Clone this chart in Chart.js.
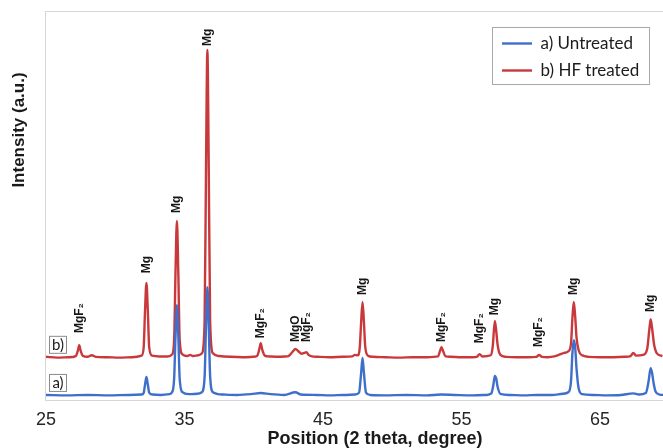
<!DOCTYPE html>
<html>
<head>
<meta charset="utf-8">
<script src="https://cdn.jsdelivr.net/npm/chart.js@4.4.1/dist/chart.umd.min.js"></script>
<style>
  html, body { margin: 0; padding: 0; background: #ffffff; overflow: hidden; width: 663px; height: 448px; }
  #wrap { width: 720px; height: 448px; }
</style>
</head>
<body>
<div id="wrap"><canvas id="c" width="720" height="448"></canvas></div>
<script>
// ---------- DATA ----------
const seriesNames = ['a) Untreated', 'b) HF treated'];
const seriesTags = ['a)', 'b)'];
const xTicks = [25, 35, 45, 55, 65];

// a) Untreated : 2-theta positions and intensities (a.u.)
const untreatedX = [25.0, 26.5, 28.0, 29.5, 31.0, 31.9,
  32.05, 32.15, 32.25, 32.35, 32.45, 32.7, 33.3, 33.9,
  34.1, 34.25, 34.35, 34.45, 34.55, 34.65, 34.85, 35.3, 35.9, 36.25,
  36.45, 36.55, 36.65, 36.75, 36.85, 37.05, 37.8, 38.8, 39.8, 40.5, 41.2, 42.2, 43.0, 43.4,
  44.5, 45.5, 46.5, 47.3, 47.6, 47.75, 47.85, 47.95, 48.1, 48.4,
  49.5, 51.0, 52.5, 53.5, 54.5, 55.8, 56.8,
  57.15, 57.3, 57.4, 57.5, 57.6, 57.8, 58.5, 59.5, 60.5, 61.5, 62.3, 62.7,
  62.9, 63.0, 63.1, 63.2, 63.3, 63.45, 63.7, 64.5, 65.5, 66.5, 67.4, 67.8, 68.3,
  68.5, 68.65, 68.75, 68.85, 69.0, 69.3, 69.6];
const untreatedY = [13, 12, 13, 12, 13, 14,
  18, 40, 59, 40, 19, 14, 13, 15,
  20, 55, 165, 244, 165, 55, 20, 15, 16, 20,
  60, 190, 290, 190, 60, 20, 14, 13, 15, 18, 15, 13, 20, 14,
  13, 12, 13, 14, 19, 70, 108, 70, 19, 13,
  12, 13, 12, 14, 13, 12, 13,
  17, 40, 62, 55, 34, 16, 13, 12, 13, 13, 16, 20,
  48, 120, 154, 135, 80, 30, 15, 13, 12, 13, 17, 14, 18,
  48, 82, 70, 46, 22, 14, 13];

// b) HF treated : 2-theta positions and intensities (a.u., plotted offset above a)
const hfX = [25.0, 25.8, 26.6, 27.15, 27.3, 27.4, 27.5, 27.65, 28.0, 28.3, 28.6, 29.4, 30.3, 31.2,
  31.9, 32.05, 32.15, 32.25, 32.35, 32.45, 32.65, 33.2, 33.8,
  34.1, 34.25, 34.35, 34.45, 34.55, 34.65, 34.85, 35.2, 35.4, 35.6, 36.0,
  36.25, 36.45, 36.55, 36.65, 36.75, 36.85, 37.05, 37.5, 38.3, 39.2, 39.9,
  40.25, 40.4, 40.5, 40.6, 40.8, 41.1, 41.8, 42.3,
  42.5, 42.8, 43.0, 43.2, 43.45, 43.65, 43.8, 43.95, 44.2, 44.6, 45.5, 46.4, 47.1, 47.3,
  47.5, 47.65, 47.75, 47.85, 47.95, 48.05, 48.25, 48.6, 49.5, 50.5, 51.5, 52.5,
  53.3, 53.45, 53.55, 53.65, 53.85, 54.2, 55.0, 55.8, 56.1, 56.3, 56.5,
  57.1, 57.25, 57.4, 57.5, 57.6, 57.8, 58.2, 59.0, 59.8, 60.4, 60.6, 60.8, 61.2,
  61.7, 62.1, 62.4, 62.7, 62.9, 63.0, 63.1, 63.2, 63.3, 63.45, 63.7, 64.2, 65.0, 66.0, 66.8,
  67.2, 67.4, 67.6, 68.1, 68.4, 68.55, 68.65, 68.75, 68.9, 69.1, 69.5];
const hfY = [111, 109, 110, 113, 127, 141, 127, 114, 111, 115, 111, 110, 109, 110,
  114, 135, 230, 301, 230, 135, 114, 112, 112,
  117, 155, 330, 460, 330, 155, 117, 113, 116, 113, 115,
  120, 200, 590, 900, 590, 200, 120, 113, 111, 110, 111,
  114, 131, 146, 131, 114, 112, 111, 112,
  113, 124, 131, 126, 119, 121, 123, 116, 112, 111, 110, 111, 112, 116,
  115, 135, 200, 252, 200, 135, 114, 111, 110, 109, 110, 110,
  112, 127, 136, 127, 112, 111, 110, 110, 111, 118, 112,
  115, 138, 203, 178, 142, 116, 111, 110, 110, 111, 116, 111, 110,
  112, 117, 121, 125, 145, 210, 252, 215, 160, 128, 115, 111, 110, 110, 111,
  113, 121, 114, 116, 132, 180, 208, 185, 142, 120, 113];

// Phase labels above the peaks: 2-theta, text, intensity at the label foot
const peakX = [27.4, 32.25, 34.45, 36.65, 40.5, 43.0, 43.8, 47.85, 53.55, 56.3, 57.4, 60.6, 63.1, 68.65];
const peakLabel = ['MgF₂', 'Mg', 'Mg', 'Mg', 'MgF₂', 'MgO', 'MgF₂', 'Mg', 'MgF₂', 'MgF₂', 'Mg', 'MgF₂', 'Mg', 'Mg'];
const peakLabelY = [172, 326, 481, 910, 159, 149, 149, 270, 149, 146, 218, 136, 270, 226];

const xTitle = 'Position (2 theta, degree)';
const yTitle = 'Intensity (a.u.)';

// ---------- STYLE ----------
const BLUE = '#3e6fca';
const RED = '#c9393b';
const NARROW = '"Liberation Sans Narrow", "Arial Narrow", "Liberation Sans", Arial, sans-serif';
const SANS = '"Liberation Sans", Arial, sans-serif';
const LEG = 'Lato, "Open Sans", sans-serif';

const decor = {
  id: 'decor',
  beforeLayout(chart) {
    const lg = chart.legend;
    if (lg && !lg.__patched) {
      const f = lg.fit;
      lg.fit = function () { f.call(this); this.width = 0; };
      lg.__patched = true;
    }
  },
  beforeDraw(chart) {
    const lg = chart.legend;
    if (lg) { lg.left = 492; lg.right = 650; lg.top = 25; lg.bottom = 240; }
  },
  beforeDatasetsDraw(chart) {
    const { ctx, chartArea: a } = chart;
    ctx.save();
    ctx.strokeStyle = '#d6d6d6';
    ctx.lineWidth = 1;
    ctx.strokeRect(Math.round(a.left) - 0.5, Math.round(a.top) + 0.5, a.right - a.left, a.bottom - a.top);
    // legend frame
    ctx.strokeStyle = '#a8a8a8';
    ctx.strokeRect(492.5, 27.5, 157, 57);
    ctx.restore();
  },
  afterDatasetsDraw(chart) {
    const { ctx, chartArea: a, scales } = chart;
    const xs = scales.x, ys = scales.y;
    ctx.save();
    // peak labels
    ctx.fillStyle = '#161616';
    ctx.font = 'bold 12px ' + SANS;
    ctx.textAlign = 'left';
    ctx.textBaseline = 'middle';
    peakX.forEach((v, i) => {
      const px = xs.getPixelForValue(v);
      const py = ys.getPixelForValue(peakLabelY[i]);
      ctx.save();
      ctx.translate(px, py);
      ctx.rotate(-Math.PI / 2);
      ctx.fillText(peakLabel[i], 0, 0);
      ctx.restore();
    });
    // a) / b) tags
    const bases = [untreatedY[0], hfY[0]];
    ctx.font = '15px ' + LEG;
    ctx.textAlign = 'center';
    bases.forEach((b, i) => {
      const cy = ys.getPixelForValue(b) - 12;
      ctx.fillStyle = '#ffffff';
      ctx.fillRect(a.left + 3, cy - 8.5, 17, 17);
      ctx.strokeStyle = '#8c8c8c';
      ctx.lineWidth = 1;
      ctx.strokeRect(a.left + 3.5, cy - 8.5, 17, 17);
      ctx.fillStyle = '#1a1a1a';
      ctx.fillText(seriesTags[i], a.left + 12, cy);
    });
    // y axis title
    ctx.font = 'bold 17px ' + SANS;
    ctx.fillStyle = '#1a1a1a';
    ctx.textAlign = 'center';
    ctx.translate(19, 130);
    ctx.rotate(-Math.PI / 2);
    ctx.fillText(yTitle, 0, 0);
    ctx.restore();
  }
};

const toPoints = (xs, ys) => xs.map((x, i) => ({ x: x, y: ys[i] }));

new Chart(document.getElementById('c'), {
  type: 'line',
  data: {
    datasets: [
      { label: seriesNames[0], data: toPoints(untreatedX, untreatedY), borderColor: BLUE, backgroundColor: BLUE,
        borderWidth: 2.4, pointRadius: 0, fill: false, cubicInterpolationMode: 'monotone' },
      { label: seriesNames[1], data: toPoints(hfX, hfY), borderColor: RED, backgroundColor: RED,
        borderWidth: 2.4, pointRadius: 0, fill: false, cubicInterpolationMode: 'monotone' }
    ]
  },
  options: {
    responsive: false,
    animation: false,
    devicePixelRatio: 1,
    layout: { padding: { left: 46, top: 11, right: 16, bottom: 0 } },
    plugins: {
      tooltip: { enabled: false },
      legend: {
        display: true,
        position: 'right',
        align: 'start',
        labels: {
          usePointStyle: true,
          pointStyle: 'line',
          pointStyleWidth: 30,
          boxHeight: 17,
          padding: 10,
          color: '#1c1c1c',
          font: { family: LEG, size: 17 }
        }
      }
    },
    scales: {
      x: {
        type: 'linear',
        min: 25,
        max: 72.5,
        grid: { display: false, drawTicks: false },
        border: { display: false },
        afterBuildTicks: (axis) => { axis.ticks = xTicks.map(v => ({ value: v })); },
        afterFit: (axis) => { axis.height = 48; },
        ticks: { color: '#262626', padding: 11, maxRotation: 0, font: { family: NARROW, size: 18, lineHeight: 1.0 } },
        title: { display: true, text: xTitle, color: '#1a1a1a', padding: { top: 0, bottom: 0 },
                 font: { family: SANS, size: 18, weight: 'bold', lineHeight: 1.0 } }
      },
      y: {
        display: false,
        min: 0,
        max: 1000
      }
    }
  },
  plugins: [decor]
});
</script>
</body>
</html>
